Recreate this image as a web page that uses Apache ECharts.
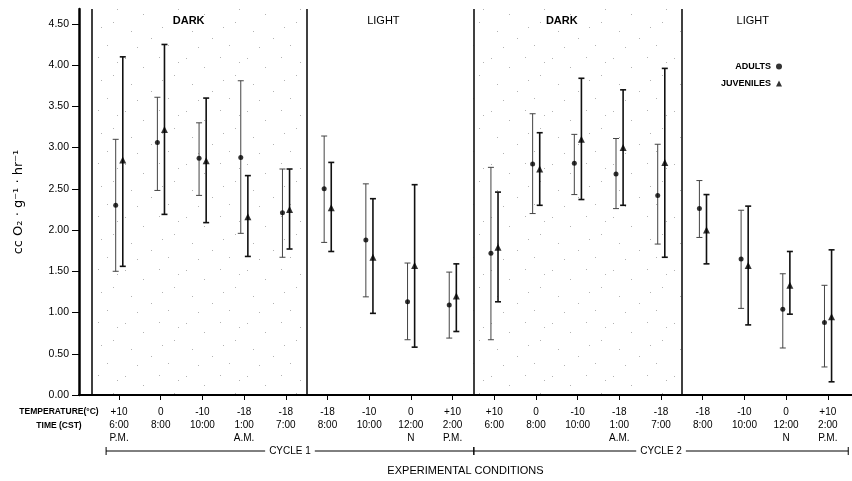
<!DOCTYPE html>
<html><head><meta charset="utf-8">
<script src="https://cdn.jsdelivr.net/npm/echarts@6/dist/echarts.min.js"></script>
<style>html,body{margin:0;padding:0;background:#fff}#c{width:852px;height:481px}</style>
</head><body><div id="c"></div><script>
const temps = ['+10','0','-10','-18','-18','-18','-10','0','+10','+10','0','-10','-18','-18','-18','-10','0','+10'];
const times = ['6:00','8:00','10:00','1:00','7:00','8:00','10:00','12:00','2:00','6:00','8:00','10:00','1:00','7:00','8:00','10:00','12:00','2:00'];
const meridiem = ['P.M.','','','A.M.','','','','N','P.M.','','','','A.M.','','','','N','P.M.'];
const adultMean = [2.30,3.06,2.87,2.88,2.21,2.50,1.88,1.13,1.09,1.72,2.80,2.81,2.68,2.42,2.26,1.65,1.04,0.88];
const adultHigh = [3.10,3.61,3.30,3.81,2.74,3.14,2.56,1.60,1.49,2.76,3.41,3.16,3.11,3.04,2.60,2.24,1.47,1.33];
const adultLow  = [1.50,2.48,2.42,1.96,1.67,1.85,1.19,0.67,0.69,0.67,2.20,2.43,2.26,1.83,1.91,1.05,0.57,0.34];
const juvMean = [2.85,3.22,2.84,2.16,2.25,2.27,1.67,1.57,1.20,1.79,2.74,3.10,3.00,2.82,2.00,1.57,1.33,0.95];
const juvHigh = [4.10,4.25,3.60,2.66,2.74,2.82,2.38,2.55,1.59,2.46,3.18,3.84,3.70,3.96,2.43,2.29,1.74,1.76];
const juvLow  = [1.56,2.19,2.09,1.68,1.77,1.74,0.99,0.58,0.77,1.13,2.30,2.37,2.30,1.67,1.59,0.85,0.98,0.16];
const yTicks = [0,0.5,1,1.5,2,2.5,3,3.5,4,4.5];
const phaseNames = ['DARK','LIGHT','DARK','LIGHT'];
const cycleNames = ['CYCLE 1','CYCLE 2'];

const idx = temps.map((_, i) => i);
const ADX = -0.08, JUX = 0.09;
const YMAX = 4.68;
const FONT = '"Liberation Sans", Arial, sans-serif';

// stipple pattern for dark periods
const pc = document.createElement('canvas'); pc.width = 61; pc.height = 53;
const pctx = pc.getContext('2d'); pctx.fillStyle = 'rgba(0,0,0,0.3)';
[[3,5],[21,14],[37,4],[52,22],[9,31],[29,38],[46,45],[15,47],[56,9],[40,27]].forEach(([a,b]) => pctx.fillRect(a,b,1,1));

function errRender(width, color, cap) {
  return function (params, api) {
    const x = api.value(0), lo = api.value(1), hi = api.value(2);
    const p1 = api.coord([x, hi]), p2 = api.coord([x, lo]);
    const st = { stroke: color, lineWidth: width };
    return { type: 'group', children: [
      { type: 'line', shape: { x1: p1[0], y1: p1[1], x2: p2[0], y2: p2[1] }, style: st },
      { type: 'line', shape: { x1: p1[0] - cap, y1: p1[1], x2: p1[0] + cap, y2: p1[1] }, style: st },
      { type: 'line', shape: { x1: p2[0] - cap, y1: p2[1], x2: p2[0] + cap, y2: p2[1] }, style: st }
    ]};
  };
}

const chart = echarts.init(document.getElementById('c'), null, { renderer: 'canvas' });
chart.setOption({
  animation: false,
  backgroundColor: '#fff',
  textStyle: { fontFamily: FONT, color: '#000' },
  grid: { left: 79, right: 0, top: 9, bottom: 83, containLabel: false },
  legend: {
    orient: 'vertical', left: 716, top: 57, align: 'right',
    itemWidth: 6, itemHeight: 6, itemGap: 8,
    textStyle: { fontSize: 9, fontWeight: 'bold', width: 62, color: '#000', fontFamily: FONT },
    data: [{ name: 'ADULTS', icon: 'circle' }, { name: 'JUVENILES', icon: 'triangle' }]
  },
  xAxis: {
    type: 'value', min: -0.96, max: 17.58, splitLine: { show: false },
    axisLine: { onZero: false, lineStyle: { color: '#000', width: 2 } },
    axisTick: { customValues: idx, length: 5, lineStyle: { color: '#000', width: 1 } },
    axisLabel: { customValues: idx, formatter: v => temps[v] + '\n' + times[v] + '\n' + meridiem[v],
      fontSize: 10, lineHeight: 13, margin: 11, color: '#000', fontFamily: FONT },
    name: 'EXPERIMENTAL CONDITIONS', nameLocation: 'middle', nameGap: 70,
    nameTextStyle: { fontSize: 11, color: '#000', fontFamily: FONT }
  },
  yAxis: {
    type: 'value', min: 0, max: YMAX, splitLine: { show: false },
    axisLine: { show: true, onZero: false, lineStyle: { color: '#000', width: 2.5 } },
    axisTick: { show: true, customValues: yTicks, length: 7, lineStyle: { color: '#000' } },
    axisLabel: { customValues: yTicks, formatter: v => v.toFixed(2), fontSize: 10.5, margin: 10, color: '#000', fontFamily: FONT },
    name: 'cc O₂ · g⁻¹ · hr⁻¹', nameLocation: 'middle', nameGap: 54, nameRotate: 90,
    nameTextStyle: { fontSize: 13, color: '#000', fontFamily: '"DejaVu Sans", sans-serif' }
  },
  series: [
    {
      name: 'adultErr', type: 'custom', renderItem: errRender(1, '#444', 3), silent: true, z: 2,
      data: idx.map(i => [i + ADX, adultLow[i], adultHigh[i]]),
      markArea: { silent: true, itemStyle: { color: { image: pc, repeat: 'repeat' } },
        data: [[{ xAxis: -0.65 }, { xAxis: 4.5 }], [{ xAxis: 8.5 }, { xAxis: 13.5 }]] },
      markLine: { silent: true, symbol: 'none', label: { show: false },
        lineStyle: { color: '#000', width: 1.5, type: 'solid' },
        data: [{ xAxis: -0.65 }, { xAxis: 4.5 }, { xAxis: 8.5 }, { xAxis: 13.5 }] }
    },
    {
      name: 'juvErr', type: 'custom', renderItem: errRender(1.6, '#111', 3), silent: true, z: 2,
      data: idx.map(i => [i + JUX, juvLow[i], juvHigh[i]])
    },
    {
      name: 'ADULTS', type: 'scatter', symbol: 'circle', symbolSize: 5, z: 3,
      itemStyle: { color: '#000' },
      data: idx.map(i => [i + ADX, adultMean[i]])
    },
    {
      name: 'JUVENILES', type: 'scatter', symbol: 'triangle', symbolSize: 7, z: 3,
      itemStyle: { color: '#000' },
      data: idx.map(i => [i + JUX, juvMean[i]])
    }
  ]
});

const px = (x, y) => chart.convertToPixel({ gridIndex: 0 }, [x, y]);
const graphics = [];
const phaseX = [1.67, 6.34, 10.62, 15.2];
phaseNames.forEach((n, k) => {
  const p = px(phaseX[k], 4.54);
  graphics.push({ type: 'text', x: p[0], y: p[1], style: { text: n, fill: '#000', align: 'center', verticalAlign: 'middle',
    font: (n === 'DARK' ? 'bold ' : '') + '11px ' + FONT } });
});
const yB = 451;
const cyc = [[-0.31, 8.51], [8.51, 17.49]];
cyc.forEach((c, k) => {
  const a = px(c[0], 0)[0], b = px(c[1], 0)[0];
  graphics.push({ type: 'line', shape: { x1: a, y1: yB, x2: b, y2: yB }, style: { stroke: '#000', lineWidth: 1 } });
  graphics.push({ type: 'line', shape: { x1: a, y1: yB - 4, x2: a, y2: yB + 4 }, style: { stroke: '#000', lineWidth: 1 } });
  graphics.push({ type: 'line', shape: { x1: b, y1: yB - 4, x2: b, y2: yB + 4 }, style: { stroke: '#000', lineWidth: 1 } });
  graphics.push({ type: 'text', x: (a + b) / 2, y: yB, z: 10, style: { text: cycleNames[k], fill: '#000', align: 'center', verticalAlign: 'middle',
    font: '10px ' + FONT, backgroundColor: '#fff', padding: [0, 4] } });
});
graphics.push({ type: 'text', x: 59, y: 412, style: { text: 'TEMPERATURE(°C)', fill: '#000', align: 'center', verticalAlign: 'middle', font: 'bold 8.5px ' + FONT } });
graphics.push({ type: 'text', x: 59, y: 426, style: { text: 'TIME (CST)', fill: '#000', align: 'center', verticalAlign: 'middle', font: 'bold 8.5px ' + FONT } });
chart.setOption({ graphic: graphics });
</script></body></html>
